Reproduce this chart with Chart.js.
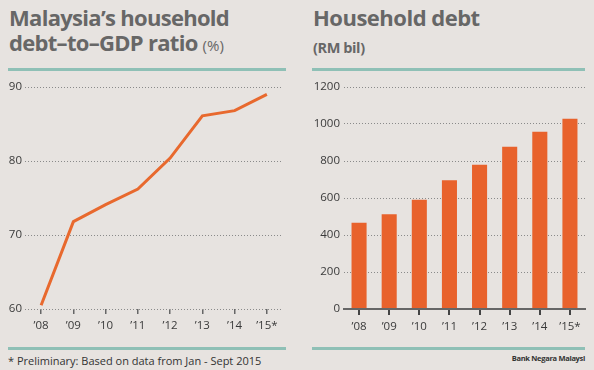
<!DOCTYPE html>
<html><head><meta charset="utf-8">
<script src="https://cdn.jsdelivr.net/npm/chart.js@4"></script>
<style>
html,body{margin:0;padding:0;}
body{width:594px;height:370px;background:#e7e3e0;position:relative;overflow:hidden;font-family:"Open Sans",sans-serif;}
.t{position:absolute;color:#676767;font-weight:700;white-space:nowrap;letter-spacing:-0.7px;}
.rule{position:absolute;height:3px;background:#8fc0b6;}
canvas{position:absolute;}
</style></head><body>
<div class="t" style="left:9px;top:5px;font-size:22px;line-height:25px;">Malaysia’s household<br>debt–to–GDP ratio <span style="font-weight:400;font-size:15px;letter-spacing:0">(%)</span></div>
<div class="t" style="left:313px;top:5px;font-size:22px;line-height:25px;letter-spacing:-0.5px">Household debt</div>
<div class="t" style="left:313px;top:39px;font-size:14.5px;line-height:18px;letter-spacing:-0.4px">(RM bil)</div>
<div class="rule" style="left:8px;top:68px;width:278px;"></div>
<div class="rule" style="left:312px;top:68px;width:273px;"></div>
<div class="rule" style="left:8px;top:347px;width:278px;"></div>
<div class="rule" style="left:312px;top:347px;width:273px;"></div>
<div style="position:absolute;left:8px;top:353px;font-size:11px;color:#333;">* Preliminary: Based on data from Jan - Sept 2015</div>
<div style="position:absolute;right:9px;top:353px;font-size:7.5px;font-weight:700;color:#333;letter-spacing:-0.3px;">Bank Negara Malaysi</div>
<canvas id="c1" width="290" height="270" style="left:0;top:70px;width:290px;height:270px;"></canvas>
<canvas id="c2" width="294" height="270" style="left:300px;top:70px;width:294px;height:270px;"></canvas>
<script>
const years = ["’08","’09","’10","’11","’12","’13","’14","’15*"];
const debtToGdp = [60.5, 71.8, 74.1, 76.2, 80.4, 86.1, 86.8, 89.0];
const householdDebt = [466, 512, 591, 696, 780, 877, 958, 1029];
const ratioTicks = [60, 70, 80, 90];
const debtTicks = [0, 200, 400, 600, 800, 1000, 1200];

const orange = "#e8622c";
const tickFont = {family:"Open Sans", size:11.5};
Chart.defaults.color = "#3a3a3a";
Chart.defaults.animation = false;

new Chart(document.getElementById("c1"), {
  type: "line",
  data: { labels: years, datasets: [{ data: debtToGdp, borderColor: "#e8692e", borderWidth: 3, pointRadius: 0, tension: 0, fill:false, borderCapStyle:"butt" }] },
  options: {
    responsive: false, maintainAspectRatio: false,
    layout: { padding: { top: 17, right: 7, left: 0, bottom: 0 } },
    plugins: { legend: { display: false }, tooltip: { enabled: false } },
    scales: {
      x: { offset: true, border:{display:false},
        grid: { offset:false, drawOnChartArea:false, tickLength:5, color:"#666", lineWidth:1.5 },
        ticks: { font: tickFont, padding: 5, maxRotation:0, autoSkip:false },
        afterFit: s => { s.height = 31; } },
      y: { min: 60, max: 90, border:{display:false, dash:[1,2]},
        afterBuildTicks: s => { s.ticks = ratioTicks.map(v => ({value:v})); },
        grid: { drawTicks:false, color:"#8a8a8a", lineWidth:1 },
        ticks: { font: tickFont, padding: 3, callback: v => String(v) },
        afterFit: s => { s.width = 25; } }
    }
  }
});

new Chart(document.getElementById("c2"), {
  type: "bar",
  data: { labels: years, datasets: [{ data: householdDebt, backgroundColor: orange, categoryPercentage: 1, barPercentage: 0.5 }] },
  options: {
    responsive: false, maintainAspectRatio: false,
    layout: { padding: { top: 17, right: 9, left: 0, bottom: 0 } },
    plugins: { legend: { display: false }, tooltip: { enabled: false } },
    scales: {
      x: { offset: true, border:{display:true, color:"#666", width:2, z:1},
        grid: { offset:false, drawOnChartArea:false, tickLength:6, color:"#444", lineWidth:2 },
        ticks: { font: tickFont, padding: 5, maxRotation:0, autoSkip:false },
        afterFit: s => { s.height = 31; } },
      y: { min: 0, max: 1200, border:{display:false, dash:[1,2]},
        afterBuildTicks: s => { s.ticks = debtTicks.map(v => ({value:v})); },
        grid: { drawTicks:false, color: c => c.tick && c.tick.value === 0 ? "rgba(0,0,0,0)" : "#8a8a8a", lineWidth:1 },
        ticks: { font: tickFont, padding: 4, callback: v => String(v) },
        afterFit: s => { s.width = 44; } }
    }
  }
});
</script>
</body></html>
